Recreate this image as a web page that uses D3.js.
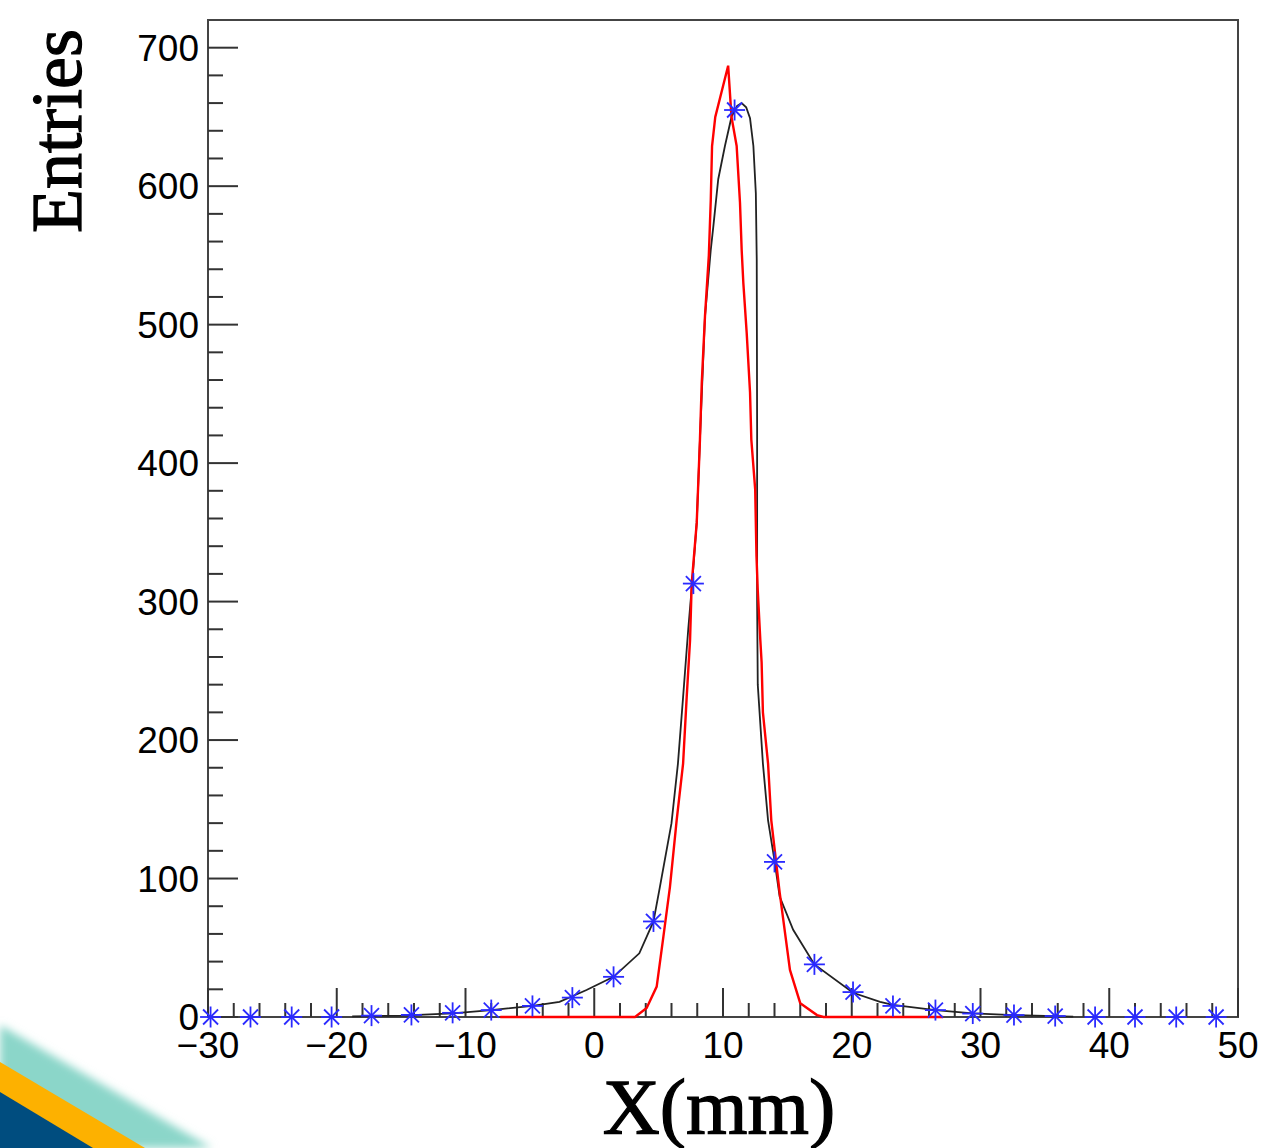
<!DOCTYPE html>
<html>
<head>
<meta charset="utf-8">
<script src="https://cdn.jsdelivr.net/npm/d3@7"></script>
<style>
    body { margin: 0; background: #fff; }
    svg { display: block; }
    .tick-label { font-family: "Liberation Sans", Arial, sans-serif; font-size: 37px; fill: #000; }
    .axis-title { font-family: "Liberation Serif", "Times New Roman", serif; fill: #000; stroke: #000; stroke-width: 1.3px; }
</style>
</head>
<body>
<div id="chart"></div>
<script>
// blue asterisks (measured points)
const pointX = [-29.8, -26.7, -23.5, -20.4, -17.3, -14.2, -11.0, -8.0, -4.8, -1.7, 1.5, 4.6, 7.7, 10.9,
    14.0, 17.1, 20.1, 23.2, 26.5, 29.4, 32.6, 35.8, 38.9, 42.0, 45.2, 48.3];
const pointY = [0, 0, 0, 0, 1, 1.5, 3, 5, 8, 14, 29, 69, 313, 655,
    112, 38, 18, 8, 5, 2.5, 1.4, 0.7, 0, 0, 0, 0];

// black fit curve
const blackX = [-18.8, -15, -11, -8, -4.8, -2.7, -0.6, 1.5, 3.5, 4.6, 5.1, 6.0, 6.5, 6.9, 7.3, 7.6, 7.96, 8.21,
    8.6, 9.05, 9.25, 9.63, 10.15, 10.66, 11.1, 11.45, 11.8, 12.1, 12.36, 12.55, 12.62, 12.65, 12.65, 12.7,
    13.1, 13.5, 14.0, 14.4, 15.45, 17.1, 20.1, 22.2, 23.2, 26.5, 29.4, 32.6, 37.2];
const blackY = [0.5, 1.0, 2.6, 5, 8, 11, 19.5, 29, 46, 69, 94, 140, 183, 231, 280, 313, 357, 417,
    506, 554, 571, 605, 629, 650, 658, 660, 657, 649, 629, 595, 547, 426, 300, 240,
    183, 142, 113, 87, 63, 38, 17.5, 11, 8.7, 5, 2.6, 1.4, 0.2];

// red gaussian fit
const redX = [-7.3, 3.17, 4.07, 4.85, 5.37, 5.88, 6.4, 6.9, 7.18, 7.44, 7.57, 7.96, 8.21, 8.35, 8.6, 8.9,
    9.05, 9.15, 9.4, 10.4, 10.66, 11.06, 11.32, 11.45, 11.58, 11.84, 12.1, 12.2, 12.5, 12.6, 12.7, 12.9,
    13.0, 13.1, 13.5, 13.75, 14.4, 15.2, 16.0, 17.3, 17.8, 27.1];
const redY = [0, 0, 6.5, 22, 58, 94, 142, 183, 231, 272, 313, 357, 417, 458, 506, 550,
    590, 629, 650, 687, 650, 629, 588, 554, 530, 494, 451, 417, 381, 333, 308, 272,
    256, 220, 183, 142, 90, 34, 10, 1.4, 0, 0];

const xMajorTicks = [-30, -20, -10, 0, 10, 20, 30, 40, 50];
const yMajorTicks = [0, 100, 200, 300, 400, 500, 600, 700];

const W = 1261, H = 1148;
const frame = { left: 208, top: 20, right: 1238, bottom: 1017 };

const svg = d3.select("#chart").append("svg")
    .attr("width", W)
    .attr("height", H);

// decoration at bottom left corner
const defs = svg.append("defs");
defs.append("filter").attr("id", "soft")
    .attr("x", "-20%").attr("y", "-20%").attr("width", "140%").attr("height", "140%")
    .append("feGaussianBlur").attr("stdDeviation", 4);

svg.append("polygon")
    .attr("points", "0,1025 212,1148 0,1148")
    .attr("fill", "#8bd6c9")
    .attr("filter", "url(#soft)");
svg.append("polygon")
    .attr("points", "0,1062 145,1148 0,1148")
    .attr("fill", "#fdb100");
svg.append("polygon")
    .attr("points", "0,1092 93,1148 0,1148")
    .attr("fill", "#004d7f");

// scales
const x = d3.scaleLinear().domain([-30, 50]).range([frame.left, frame.right]);
const y = d3.scaleLinear().domain([0, 720]).range([frame.bottom, frame.top]);

// frame
svg.append("rect")
    .attr("x", frame.left)
    .attr("y", frame.top)
    .attr("width", frame.right - frame.left)
    .attr("height", frame.bottom - frame.top)
    .attr("fill", "none")
    .attr("stroke", "#444")
    .attr("stroke-width", 2);

// ticks drawn inside the frame (ROOT style)
const ticks = svg.append("g").attr("stroke", "#333").attr("stroke-width", 2);

const xMinor = d3.range(-30, 50.01, 2);
ticks.selectAll(".xt").data(xMinor).enter().append("line")
    .attr("x1", d => x(d)).attr("x2", d => x(d))
    .attr("y1", frame.bottom)
    .attr("y2", d => frame.bottom - (d % 10 === 0 ? 29 : 14));

const yMinor = d3.range(0, 701, 20);
ticks.selectAll(".yt").data(yMinor).enter().append("line")
    .attr("y1", d => y(d)).attr("y2", d => y(d))
    .attr("x1", frame.left)
    .attr("x2", d => frame.left + (d % 100 === 0 ? 30 : 15));

// tick labels
svg.selectAll(".xl").data(xMajorTicks).enter().append("text")
    .attr("class", "tick-label")
    .attr("x", d => x(d))
    .attr("y", 1058)
    .attr("text-anchor", "middle")
    .text(d => d3.format("d")(d));

svg.selectAll(".yl").data(yMajorTicks).enter().append("text")
    .attr("class", "tick-label")
    .attr("x", 199)
    .attr("y", d => y(d) + 13)
    .attr("text-anchor", "end")
    .text(d => d);

// curves
const line = d3.line()
    .x(d => x(d[0]))
    .y(d => y(d[1]))
    .curve(d3.curveLinear);

svg.append("path")
    .datum(d3.zip(blackX, blackY))
    .attr("d", line)
    .attr("fill", "none")
    .attr("stroke", "#222")
    .attr("stroke-width", 1.8);

svg.append("path")
    .datum(d3.zip(redX, redY))
    .attr("d", line)
    .attr("fill", "none")
    .attr("stroke", "#ff0000")
    .attr("stroke-width", 2.4);

// asterisk markers
const star = svg.append("g")
    .attr("stroke", "#2a2aff")
    .attr("stroke-width", 1.8);
const r = 10.5, rd = 7.5;
const pts = d3.zip(pointX, pointY);
pts.forEach(p => {
    const cx = x(p[0]), cy = y(p[1]);
    const g = star.append("g").attr("transform", `translate(${cx},${cy})`);
    g.append("line").attr("x1", -r).attr("x2", r).attr("y1", 0).attr("y2", 0);
    g.append("line").attr("x1", 0).attr("x2", 0).attr("y1", -r).attr("y2", r);
    g.append("line").attr("x1", -rd).attr("x2", rd).attr("y1", -rd).attr("y2", rd);
    g.append("line").attr("x1", -rd).attr("x2", rd).attr("y1", rd).attr("y2", -rd);
});

// axis titles
svg.append("text")
    .attr("class", "axis-title")
    .attr("transform", "translate(81,131) rotate(-90)")
    .attr("text-anchor", "middle")
    .style("font-size", "72px")
    .text("Entries");

svg.append("text")
    .attr("class", "axis-title")
    .attr("x", 719)
    .attr("y", 1133)
    .attr("text-anchor", "middle")
    .style("font-size", "79px")
    .text("X(mm)");
</script>
</body>
</html>
